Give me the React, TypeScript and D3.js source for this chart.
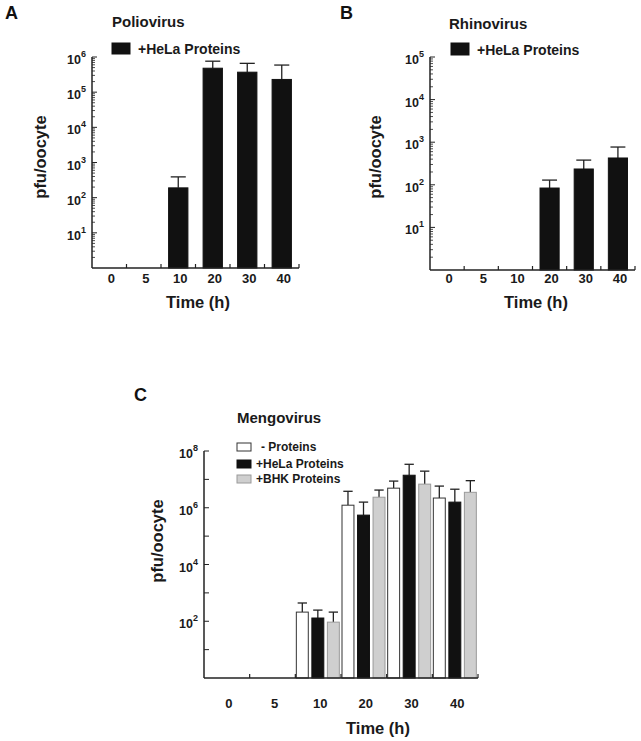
import React from "react";
import * as d3 from "d3";

const W = 641;
const H = 741;
const FONT = "'Liberation Sans', Arial, Helvetica, sans-serif";

const timeLabels = ["0", "5", "10", "20", "30", "40"];

// Panel A – Poliovirus (+HeLa proteins)
const polioHeLa = [null, null, 190, 480000, 370000, 230000];
const polioHeLaUpper = [null, null, 390, 760000, 660000, 590000];

// Panel B – Rhinovirus (+HeLa proteins)
const rhinoHeLa = [null, null, null, 84, 235, 426];
const rhinoHeLaUpper = [null, null, null, 129, 380, 770];

// Panel C – Mengovirus
const mengoNone = [null, null, 210, 1.23e6, 4.9e6, 2.2e6];
const mengoNoneUpper = [null, null, 440, 3.8e6, 8.7e6, 5.8e6];
const mengoHeLa = [null, null, 130, 5.5e5, 1.4e7, 1.58e6];
const mengoHeLaUpper = [null, null, 247, 1.58e6, 3.4e7, 4.5e6];
const mengoBHK = [null, null, 93, 2.35e6, 6.8e6, 3.5e6];
const mengoBHKUpper = [null, null, 210, 4.2e6, 1.95e7, 9.0e6];

const seriesNames = ["- Proteins", "+HeLa Proteins", "+BHK Proteins"];

type Series = {
  name: string;
  values: (number | null)[];
  upper: (number | null)[];
  fill: string;
  stroke: string;
};

type PanelProps = {
  letter: string;
  letterX: number;
  letterY: number;
  title: string;
  titleX: number;
  titleY: number;
  xRange: [number, number];
  yRange: [number, number];
  maxExp: number;
  labelExps: number[];
  minor: boolean;
  series: Series[];
  singleBarFrac: number;
  groupPad: [number, number];
  ylabelX: number;
  ylabelY: number;
  xlabelX: number;
  xlabelY: number;
  tickLabelY: number;
  legend: { x: number; y: number; w: number; h: number; textX: number; fontSize: number }[];
};

function Panel(p: PanelProps) {
  const x = d3.scaleBand<string>().domain(timeLabels).range(p.xRange).paddingInner(0).paddingOuter(0);
  const y = d3.scaleLog().domain([1, Math.pow(10, p.maxExp)]).range(p.yRange);
  const bw = x.bandwidth();
  const x1 = d3
    .scaleBand<string>()
    .domain(p.series.map((s) => s.name))
    .range(p.series.length > 1 ? p.groupPad : [bw * (1 - p.singleBarFrac) / 2, bw * (1 + p.singleBarFrac) / 2])
    .paddingInner(p.series.length > 1 ? 0.23 : 0);
  const barW = x1.bandwidth();
  const [x0, xEnd] = p.xRange;
  const yBottom = p.yRange[0];
  const yTop = p.yRange[1];

  const majors = d3.range(1, p.maxExp + 1).map((e) => Math.pow(10, e));
  const minors: number[] = [];
  if (p.minor) {
    for (let e = 0; e < p.maxExp; e++) {
      for (let k = 2; k <= 9; k++) minors.push(k * Math.pow(10, e));
    }
  }

  const boundaries = timeLabels.slice(1).map((t) => x(t) as number).concat([xEnd]);

  return (
    <g>
      <text x={p.letterX} y={p.letterY} fontSize={18} fontWeight="bold" fontFamily={FONT} fill="#111">
        {p.letter}
      </text>
      <text x={p.titleX} y={p.titleY} fontSize={15} fontWeight="bold" fontFamily={FONT} fill="#1a1a1a">
        {p.title}
      </text>

      {/* legend */}
      {p.legend.map((l, i) => (
        <g key={i}>
          <rect
            x={l.x}
            y={l.y}
            width={l.w}
            height={l.h}
            fill={p.series[i].fill}
            stroke={p.series[i].stroke}
            strokeWidth={1}
          />
          <text
            x={l.textX}
            y={l.y + l.h - 0.5}
            fontSize={l.fontSize}
            fontWeight="bold"
            fontFamily={FONT}
            fill="#1a1a1a"
          >
            {p.series[i].name}
          </text>
        </g>
      ))}

      {/* bars and error bars */}
      {p.series.map((s, si) =>
        timeLabels.map((t, ti) => {
          const v = s.values[ti];
          const u = s.upper[ti];
          if (v == null) return null;
          const bx = (x(t) as number) + (x1(s.name) as number);
          const cx = bx + barW / 2;
          const capW = barW * 0.78;
          return (
            <g key={`${si}-${ti}`}>
              {u != null && (
                <g stroke="#222" strokeWidth={1.3}>
                  <line x1={cx} x2={cx} y1={y(v)} y2={y(u)} />
                  <line x1={cx - capW / 2} x2={cx + capW / 2} y1={y(u)} y2={y(u)} />
                </g>
              )}
              <rect
                x={bx}
                y={y(v)}
                width={barW}
                height={yBottom - y(v)}
                fill={s.fill}
                stroke={s.stroke}
                strokeWidth={1}
              />
            </g>
          );
        })
      )}

      {/* y axis */}
      <g stroke="#222">
        <line x1={x0} x2={x0} y1={yTop} y2={yBottom} strokeWidth={1.5} />
        {majors.map((m) => (
          <line key={`M${m}`} x1={x0} x2={x0 + 5} y1={y(m)} y2={y(m)} strokeWidth={1} />
        ))}
        {minors.map((m) => (
          <line key={`m${m}`} x1={x0} x2={x0 + 3} y1={y(m)} y2={y(m)} strokeWidth={0.8} />
        ))}
      </g>
      {p.labelExps.map((e) => (
        <text
          key={`L${e}`}
          x={x0 - 6}
          y={y(Math.pow(10, e)) + 7}
          textAnchor="end"
          fontSize={12.5}
          fontWeight="bold"
          fontFamily={FONT}
          fill="#1a1a1a"
        >
          <tspan>10</tspan>
          <tspan fontSize={9} dy={-7}>
            {String(e)}
          </tspan>
        </text>
      ))}

      {/* x axis */}
      <g stroke="#222">
        <line x1={x0} x2={xEnd} y1={yBottom} y2={yBottom} strokeWidth={1.5} />
        {boundaries.map((b, i) => (
          <line key={`b${i}`} x1={b} x2={b} y1={yBottom} y2={yBottom - 4} strokeWidth={1.2} />
        ))}
      </g>
      {timeLabels.map((t) => (
        <text
          key={`t${t}`}
          x={(x(t) as number) + bw / 2 + 2}
          y={p.tickLabelY}
          textAnchor="middle"
          fontSize={13}
          fontWeight="bold"
          fontFamily={FONT}
          fill="#1a1a1a"
        >
          {t}
        </text>
      ))}

      <text
        x={p.xlabelX}
        y={p.xlabelY}
        textAnchor="middle"
        fontSize={16.5}
        fontWeight="bold"
        fontFamily={FONT}
        fill="#1a1a1a"
      >
        Time (h)
      </text>
      <text
        transform={`translate(${p.ylabelX},${p.ylabelY}) rotate(-90)`}
        textAnchor="middle"
        fontSize={16.5}
        fontWeight="bold"
        fontFamily={FONT}
        fill="#1a1a1a"
      >
        pfu/oocyte
      </text>
    </g>
  );
}

export default function App() {
  const black = "#111111";
  const seriesA: Series[] = [
    { name: seriesNames[1], values: polioHeLa, upper: polioHeLaUpper, fill: black, stroke: black },
  ];
  const seriesB: Series[] = [
    { name: seriesNames[1], values: rhinoHeLa, upper: rhinoHeLaUpper, fill: black, stroke: black },
  ];
  const seriesC: Series[] = [
    { name: seriesNames[0], values: mengoNone, upper: mengoNoneUpper, fill: "#ffffff", stroke: "#333" },
    { name: seriesNames[1], values: mengoHeLa, upper: mengoHeLaUpper, fill: black, stroke: black },
    { name: seriesNames[2], values: mengoBHK, upper: mengoBHKUpper, fill: "#cfcfcf", stroke: "#9a9a9a" },
  ];

  return (
    <svg
      width={W}
      height={H}
      viewBox={`0 0 ${W} ${H}`}
      style={{ position: "absolute", left: 0, top: 0, background: "#fff" }}
    >
      <rect width={W} height={H} fill="#fff" />
      <Panel
        letter="A"
        letterX={5}
        letterY={19}
        title="Poliovirus"
        titleX={112}
        titleY={27}
        xRange={[92, 299]}
        yRange={[268, 57]}
        maxExp={6}
        labelExps={[1, 2, 3, 4, 5, 6]}
        minor={true}
        series={seriesA}
        singleBarFrac={0.56}
        groupPad={[0, 0]}
        ylabelX={46}
        ylabelY={157}
        xlabelX={198}
        xlabelY={308}
        tickLabelY={283}
        legend={[{ x: 112, y: 43, w: 18, h: 11, textX: 138, fontSize: 14 }]}
      />
      <Panel
        letter="B"
        letterX={340}
        letterY={19}
        title="Rhinovirus"
        titleX={449}
        titleY={29}
        xRange={[430, 635]}
        yRange={[270, 57]}
        maxExp={5}
        labelExps={[1, 2, 3, 4, 5]}
        minor={true}
        series={seriesB}
        singleBarFrac={0.56}
        groupPad={[0, 0]}
        ylabelX={381}
        ylabelY={157}
        xlabelX={536}
        xlabelY={308}
        tickLabelY={283}
        legend={[{ x: 451, y: 43, w: 18, h: 12, textX: 477, fontSize: 14 }]}
      />
      <Panel
        letter="C"
        letterX={134}
        letterY={401}
        title="Mengovirus"
        titleX={237}
        titleY={423}
        xRange={[204, 478]}
        yRange={[678, 451]}
        maxExp={8}
        labelExps={[2, 4, 6, 8]}
        minor={false}
        series={seriesC}
        singleBarFrac={0.56}
        groupPad={[1, 44]}
        ylabelX={163}
        ylabelY={541}
        xlabelX={378}
        xlabelY={734}
        tickLabelY={708}
        legend={[
          { x: 237, y: 443, w: 14, h: 8, textX: 261, fontSize: 12 },
          { x: 237, y: 460, w: 14, h: 8, textX: 256, fontSize: 12 },
          { x: 237, y: 475, w: 14, h: 8, textX: 256, fontSize: 12 },
        ]}
      />
    </svg>
  );
}
